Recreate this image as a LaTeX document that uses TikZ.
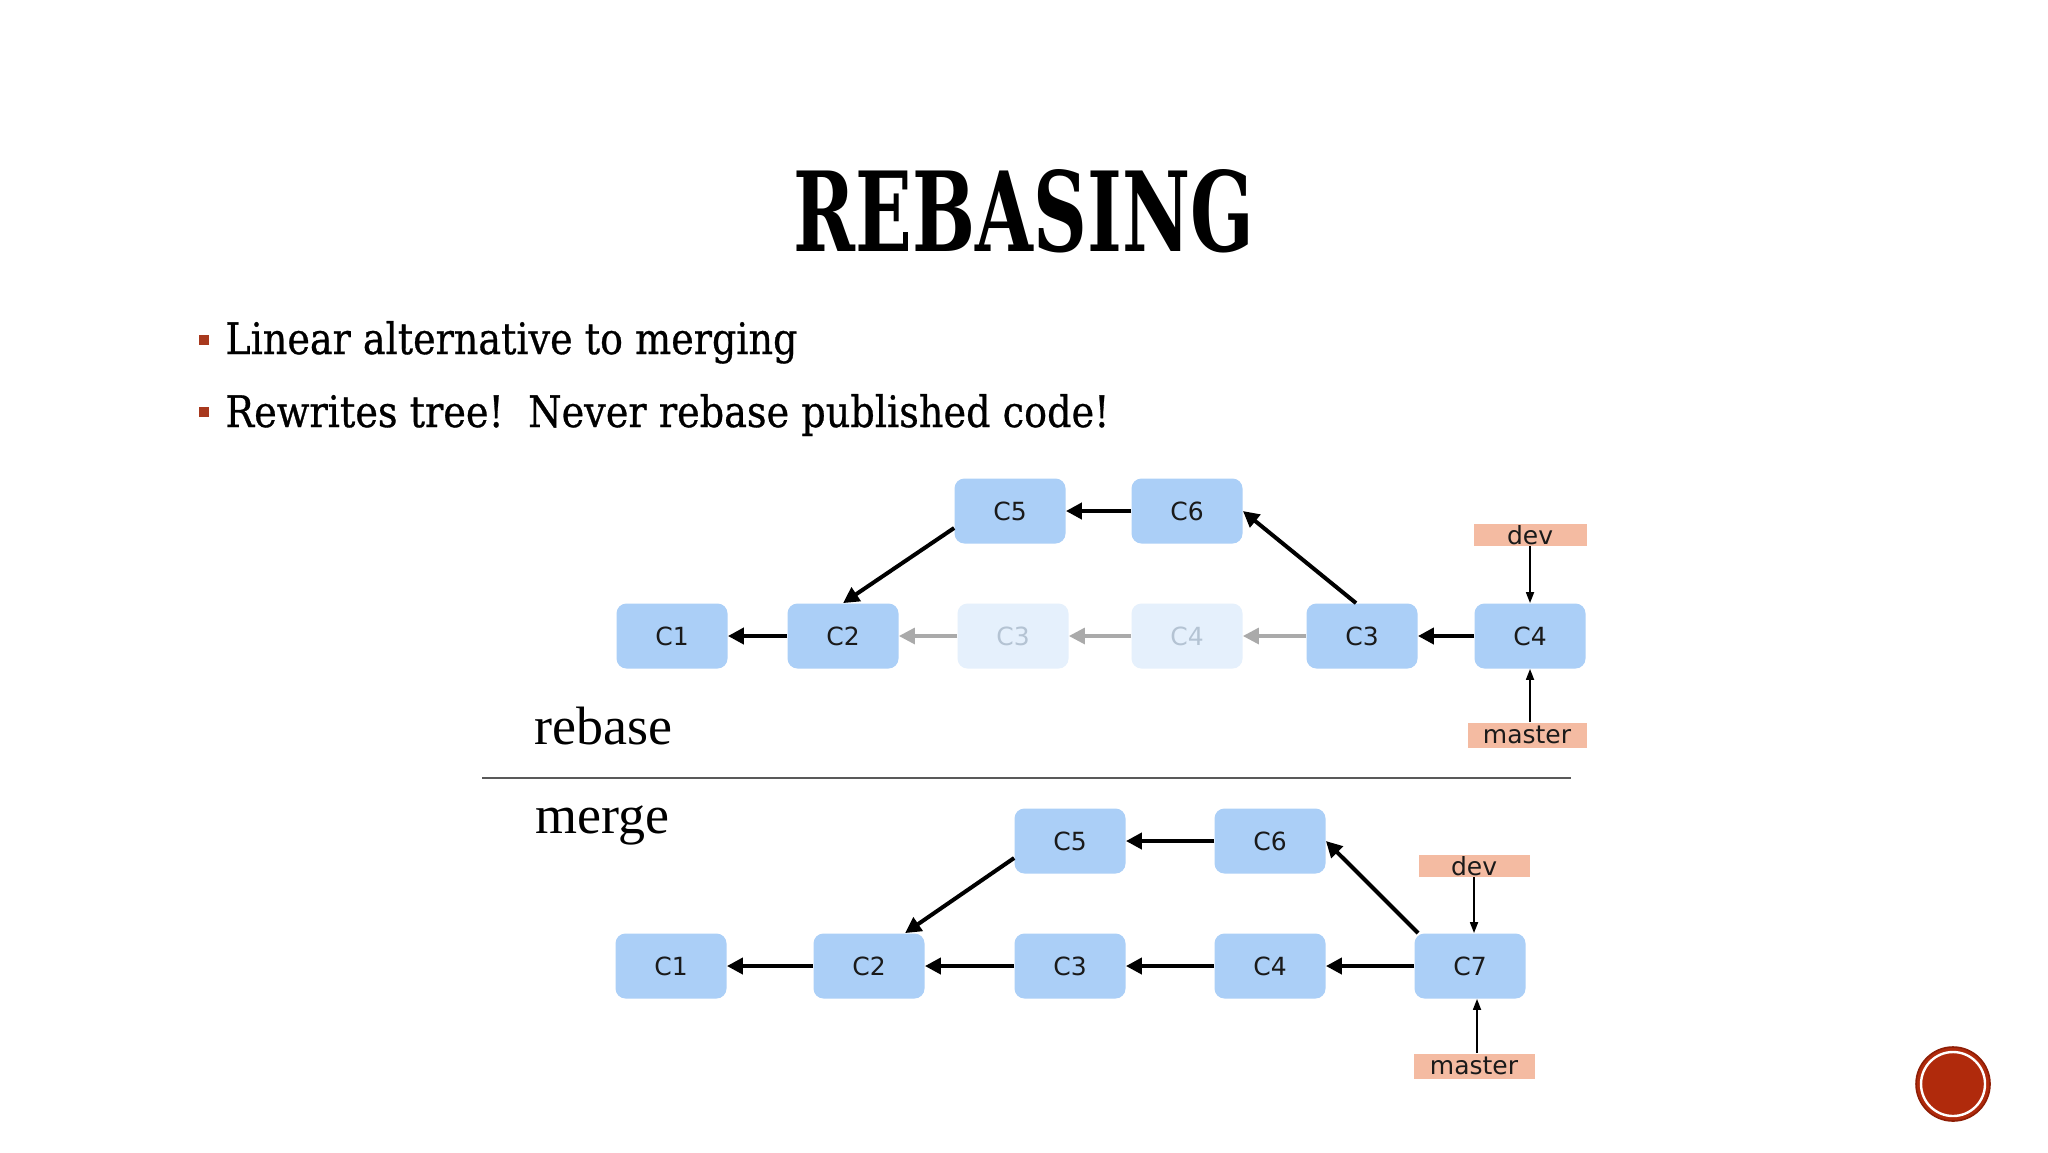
\documentclass[tikz,border=0pt]{standalone}
\usepackage{fontspec}
\setmainfont{DejaVu Serif}
\newfontfamily\bodyfont{DejaVu Serif}[FakeBold=0.7]
\newfontfamily\boxfont{DejaVu Sans}
\newfontfamily\capfont{Liberation Serif}
\usetikzlibrary{arrows.meta,calc}
\definecolor{boxblue}{HTML}{ABCFF7}
\definecolor{fadeblue}{HTML}{E5F0FC}
\definecolor{fadetext}{HTML}{B4C3D3}
\definecolor{tagfill}{HTML}{F4BBA2}
\definecolor{bulletred}{HTML}{A8391E}
\definecolor{ballred}{HTML}{B02A0C}
\definecolor{balledge}{HTML}{8E1E06}
\definecolor{fadearrow}{HTML}{AAAAAA}
\definecolor{inkgray}{HTML}{1A1A1A}
\tikzset{
  commit/.style={rectangle, rounded corners=5pt, fill=boxblue, minimum width=55.5pt, minimum height=32.5pt, inner sep=0pt, font=\boxfont\fontsize{12.5}{14}\selectfont, text=inkgray},
  ghost/.style={commit, fill=fadeblue, text=fadetext},
  tagbox/.style={rectangle, fill=tagfill, minimum width=56.5pt, minimum height=11pt, inner sep=0pt, font=\boxfont\fontsize{12.5}{14}\selectfont, text=inkgray},
  edge/.style={line width=2pt, -{Triangle[length=8pt,width=8pt]}},
  fadeedge/.style={edge, draw=fadearrow, line width=1.6pt},
  ptr/.style={line width=0.9pt, -{Triangle[length=5.5pt,width=4pt]}},
  caption/.style={anchor=base west, inner sep=0pt, font=\capfont\fontsize{27}{30}\selectfont},
  bullet/.style={rectangle, fill=bulletred, minimum size=5pt, inner sep=0pt},
  bullettext/.style={anchor=base west, inner sep=0pt, text=black, font=\bodyfont}
}
\begin{document}
\begin{tikzpicture}[x=0.5pt, y=-0.5pt]
\fill[white] (0,0) rectangle (2048,1152);
\useasboundingbox (0,0) rectangle (2048,1152);

% title
\node[inner sep=0pt] (title) at (1024,211) {\resizebox{230pt}{41pt}{\bfseries REBASING}};

% bullets
\node[bullet] (bu1) at (204,340) {};
\node[bullettext] (bt1) at (225,354) {\resizebox{286pt}{16.5pt}{Linear alternative to merging}};
\node[bullet] (bu2) at (204,412) {};
\node[bullettext] (bt2) at (225,427) {\resizebox{442pt}{16.5pt}{Rewrites tree!\ \ Never rebase published code!}};

% rebase diagram
\node[commit] (tC5) at (1010,511) {C5};
\node[commit] (tC6) at (1187,511) {C6};
\node[commit] (tC1) at (672,636) {C1};
\node[commit] (tC2) at (843,636) {C2};
\node[ghost] (tC3o) at (1013,636) {C3};
\node[ghost] (tC4o) at (1187,636) {C4};
\node[commit] (tC3) at (1362,636) {C3};
\node[commit] (tC4) at (1530,636) {C4};
\node[tagbox] (tdev) at (1530,535) {dev};
\node[tagbox, minimum width=59.5pt, minimum height=12.5pt] (tmaster) at (1527,735) {master};

\draw[edge] (tC2) -- (tC1);
\draw[fadeedge] (tC3o) -- (tC2);
\draw[fadeedge] (tC4o) -- (tC3o);
\draw[fadeedge] (tC3) -- (tC4o);
\draw[edge] (tC4) -- (tC3);
\draw[edge] (tC6) -- (tC5);
\draw[edge] ($(tC3.north)+(-6,0)$) -- (tC6.east);
\draw[edge] ($(tC5.west)+(0,17)$) -- (tC2.north);
\draw[ptr] (tdev.south -| tC4) -- (tC4.north);
\draw[ptr] (tmaster.north -| tC4) -- (tC4.south);

\node[caption] (lrebase) at (534,744) {rebase};
\coordinate (sepL) at (482,778);
\coordinate (sepR) at (1571,778);
\draw[line width=1pt, draw=black!65] (sepL) -- (sepR);
\node[caption] (lmerge) at (535,833) {merge};

% merge diagram
\node[commit] (bC5) at (1070,841) {C5};
\node[commit] (bC6) at (1270,841) {C6};
\node[commit] (bC1) at (671,966) {C1};
\node[commit] (bC2) at (869,966) {C2};
\node[commit] (bC3) at (1070,966) {C3};
\node[commit] (bC4) at (1270,966) {C4};
\node[commit] (bC7) at (1470,966) {C7};
\node[tagbox, minimum width=55.5pt] (bdev) at (1474,866) {dev};
\node[tagbox, minimum width=60.5pt, minimum height=12.5pt] (bmaster) at (1474,1066) {master};

\draw[edge] (bC2) -- (bC1);
\draw[edge] (bC3) -- (bC2);
\draw[edge] (bC4) -- (bC3);
\draw[edge] (bC7) -- (bC4);
\draw[edge] (bC6) -- (bC5);
\draw[edge] ($(bC7.north west)+(4,0)$) -- (bC6.east);
\draw[edge] ($(bC5.west)+(0,17)$) -- ($(bC2.north)+(36,0)$);
\draw[ptr] (bdev.south) -- (bdev.south |- bC7.north);
\draw[ptr] ($(bmaster.north)+(3,0)$) -- ($(bmaster.north |- bC7.south)+(3,0)$);

% slide badge
\node[circle, fill=ballred, draw=balledge, line width=0.8pt, minimum size=37pt, inner sep=0pt] (badge) at (1953,1084) {};
\draw[white, line width=1.2pt] (badge.center) circle (16pt);
\end{tikzpicture}
\end{document}
